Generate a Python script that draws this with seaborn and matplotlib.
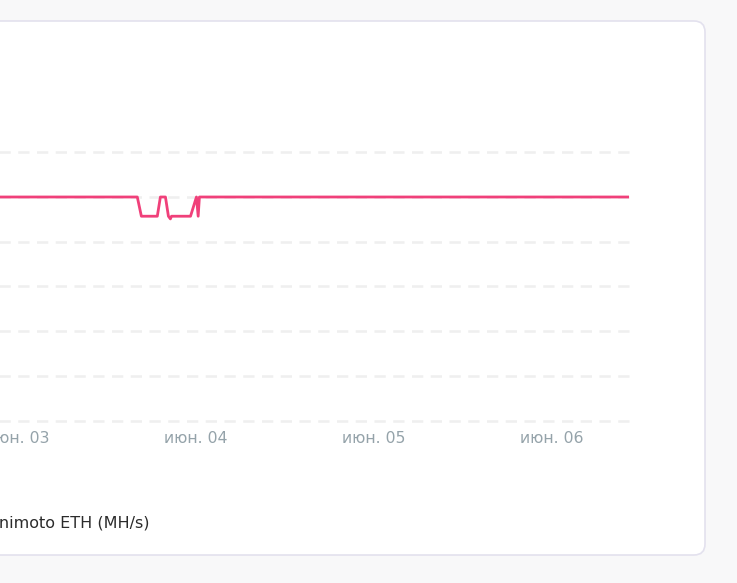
import matplotlib
matplotlib.use("Agg")
import matplotlib.pyplot as plt
from matplotlib.patches import FancyBboxPatch
from matplotlib.transforms import IdentityTransform
import pandas as pd
import seaborn as sns

# hashrate samples (MH/s), key points
times = ["2021-06-02 00:00", "2021-06-03 16:06", "2021-06-03 16:39", "2021-06-03 18:48",
         "2021-06-03 19:13", "2021-06-03 19:54", "2021-06-03 20:18", "2021-06-03 20:34",
         "2021-06-03 20:43", "2021-06-03 23:17", "2021-06-04 00:05", "2021-06-04 00:19",
         "2021-06-04 00:29", "2021-06-06 10:28"]
hashrate = [500, 500, 457, 457, 500, 500, 457, 451, 457, 457, 500, 457, 500, 500]
tick_days = ["2021-06-02", "2021-06-03", "2021-06-04", "2021-06-05", "2021-06-06"]
tick_labels = ["июн. 02", "июн. 03", "июн. 04", "июн. 05", "июн. 06"]
y_ticks = [0, 100, 200, 300, 400, 500, 600]
name_hidden = "Shi"
name_shown = "nimoto ETH (MH/s)"

df = pd.DataFrame({"time": pd.to_datetime(times), "hashrate": hashrate})

sns.set_theme(style="white")
plt.rcParams["font.family"] = ["DejaVu Sans"]

W, H = 737, 583
fig = plt.figure(figsize=(W / 100, H / 100), dpi=100)
fig.patch.set_facecolor("#f8f8f9")

# white card
card = FancyBboxPatch((-40, H - 555), 745, 534, boxstyle="round,pad=0,rounding_size=11",
                      transform=IdentityTransform(), facecolor="white",
                      edgecolor="#e3e1ee", linewidth=1.2, zorder=0)
fig.add_artist(card)

left_px, right_px = -159.8, 629
bottom_px, top_px = 420.5, 152.3
ax = fig.add_axes([left_px / W, (H - bottom_px) / H,
                   (right_px - left_px) / W, (bottom_px - top_px) / H])
ax.set_facecolor("none")

sns.lineplot(data=df, x="time", y="hashrate", ax=ax, color="#f0407a",
             linewidth=2.0, zorder=3)

ax.set_xlim(df["time"].iloc[0], df["time"].iloc[-1])
ax.set_ylim(0, 600)
ax.set_yticks(y_ticks)
ax.set_xticks(pd.to_datetime(tick_days))
ax.set_xticklabels(tick_labels)
for y in y_ticks:
    ax.axhline(y, color="#efefef", linewidth=1.8, linestyle=(0, (4.5, 3)), zorder=1,
               clip_on=False)

for s in ax.spines.values():
    s.set_visible(False)
ax.tick_params(axis="x", length=5, width=1.2, color="#e6e6e6", labelcolor="#95a3aa",
               labelsize=11.3, pad=2.5, direction="out")
ax.tick_params(axis="y", length=0, labelleft=False)
ax.set_xlabel("")
ax.set_ylabel("")
if ax.get_legend():
    ax.get_legend().remove()

# series name, its start sits left of the visible area
renderer = fig.canvas.get_renderer()
probe = fig.text(0, 0, name_hidden, fontsize=11.5)
hidden_w = probe.get_window_extent(renderer).width
probe.remove()
fig.text((-hidden_w - 1) / W, 1 - 523 / H, name_hidden + name_shown, ha="left",
         va="center", fontsize=11.5, color="#2b2b2b")

fig.savefig("out.png", dpi=100, facecolor=fig.get_facecolor())
